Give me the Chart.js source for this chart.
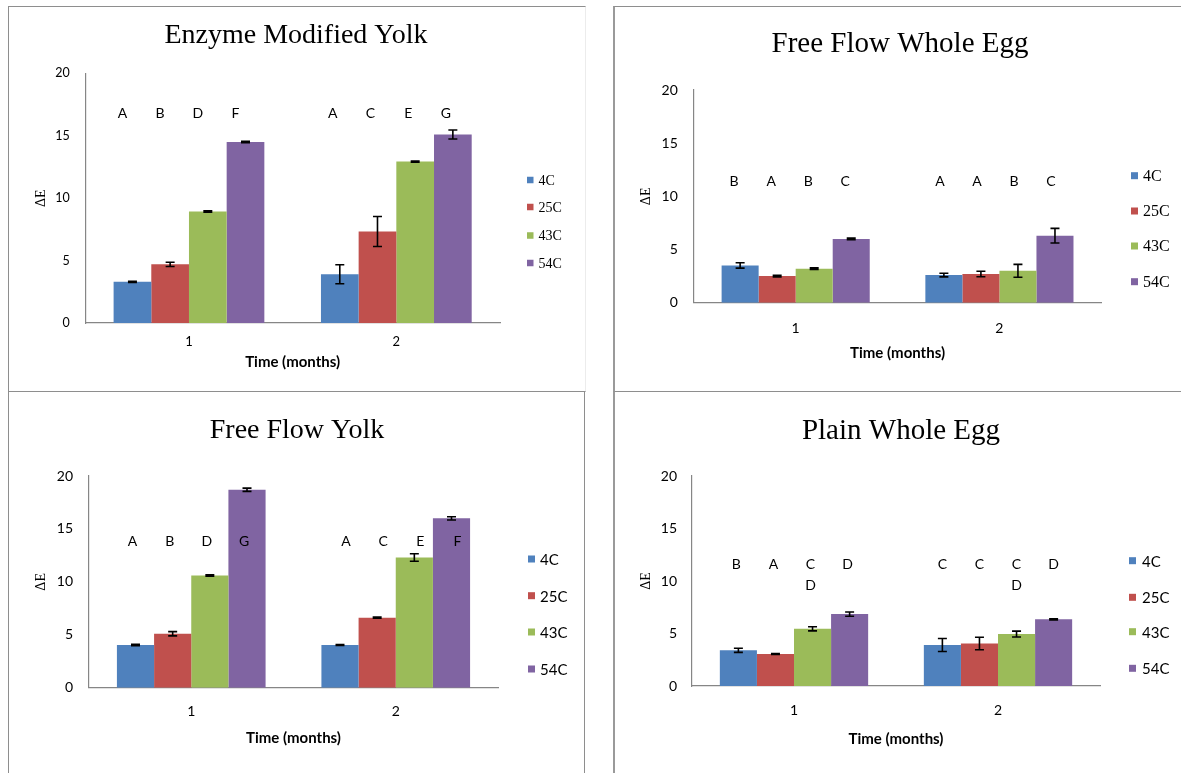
<!DOCTYPE html>
<html><head><meta charset="utf-8">
<script src="https://cdn.jsdelivr.net/npm/chart.js@4.4.1/dist/chart.umd.min.js"></script>
<style>
html,body{margin:0;padding:0;background:#fff;}
#page{position:relative;width:1181px;height:773px;overflow:hidden;background:#fff;}
.frame{position:absolute;box-sizing:border-box;}
canvas{position:absolute;}
</style></head><body>
<div id="page">
  <div class="frame" style="left:8px;top:6px;width:578px;height:386px;border:1.5px solid #8e8e8e;border-right:1px solid #ececec;"></div>
  <div class="frame" style="left:613px;top:6px;width:600px;height:386px;border-top:1.5px solid #8e8e8e;border-bottom:1.5px solid #8e8e8e;border-left:2px solid #9a9a9a;"></div>
  <div class="frame" style="left:8px;top:390.5px;width:577px;height:420px;border-top:1.5px solid #8e8e8e;border-left:1.5px solid #8e8e8e;border-right:1.5px solid #8e8e8e;"></div>
  <div class="frame" style="left:613px;top:390.5px;width:600px;height:420px;border-top:1.5px solid #8e8e8e;border-left:2px solid #9a9a9a;"></div>
  <canvas id="cA"></canvas>
  <canvas id="cB"></canvas>
  <canvas id="cC"></canvas>
  <canvas id="cD"></canvas>
</div>
<script>
// ---------- data ----------
const categories = ['1', '2'];
const seriesNames = ['4C', '25C', '43C', '54C'];
const seriesColors = ['#4F81BD', '#C0504D', '#9BBB59', '#8064A2'];
const yTicks = [0, 5, 10, 15, 20];
const xAxisTitle = 'Time (months)';
const yAxisTitle = '\u0394E';

// Enzyme Modified Yolk
const emyTitle = 'Enzyme Modified Yolk';
const emy4C = [3.3, 3.9];
const emy25C = [4.7, 7.33];
const emy43C = [8.93, 12.93];
const emy54C = [14.5, 15.1];
const emy4CErr = [0.05, 0.76];
const emy25CErr = [0.17, 1.2];
const emy43CErr = [0.05, 0.05];
const emy54CErr = [0.05, 0.36];
const emyLetters4C = ['A', 'A'];
const emyLetters25C = ['B', 'C'];
const emyLetters43C = ['D', 'E'];
const emyLetters54C = ['F', 'G'];

// Free Flow Whole Egg
const ffweTitle = 'Free Flow Whole Egg';
const ffwe4C = [3.5, 2.6];
const ffwe25C = [2.5, 2.7];
const ffwe43C = [3.2, 3.0];
const ffwe54C = [6.0, 6.3];
const ffwe4CErr = [0.25, 0.17];
const ffwe25CErr = [0.07, 0.26];
const ffwe43CErr = [0.07, 0.6];
const ffwe54CErr = [0.07, 0.69];
const ffweLetters4C = ['B', 'A'];
const ffweLetters25C = ['A', 'A'];
const ffweLetters43C = ['B', 'B'];
const ffweLetters54C = ['C', 'C'];

// Free Flow Yolk
const ffyTitle = 'Free Flow Yolk';
const ffy4C = [4.03, 4.03];
const ffy25C = [5.1, 6.62];
const ffy43C = [10.6, 12.3];
const ffy54C = [18.7, 16.0];
const ffy4CErr = [0.07, 0.05];
const ffy25CErr = [0.2, 0.06];
const ffy43CErr = [0.06, 0.36];
const ffy54CErr = [0.15, 0.15];
const ffyLetters4C = ['A', 'A'];
const ffyLetters25C = ['B', 'C'];
const ffyLetters43C = ['D', 'E'];
const ffyLetters54C = ['G', 'F'];

// Plain Whole Egg
const pweTitle = 'Plain Whole Egg';
const pwe4C = [3.4, 3.9];
const pwe25C = [3.05, 4.05];
const pwe43C = [5.45, 4.95];
const pwe54C = [6.85, 6.35];
const pwe4CErr = [0.2, 0.62];
const pwe25CErr = [0.05, 0.6];
const pwe43CErr = [0.2, 0.28];
const pwe54CErr = [0.2, 0.05];
const pweLetters4C = ['B', 'C'];
const pweLetters25C = ['A', 'C'];
const pweLetters43C = ['C\nD', 'C\nD'];
const pweLetters54C = ['D', 'D'];

// ---------- drawing ----------
const SANS = 'Lato, "Liberation Sans", sans-serif';
const SERIF = '"Liberation Serif", "Times New Roman", serif';

const decoPlugin = {
  id: 'deco',
  afterDatasetsDraw(chart, args, o) {
    const ctx = chart.ctx, ys = chart.scales.y;
    ctx.save();
    chart.data.datasets.forEach((ds, i) => {
      const meta = chart.getDatasetMeta(i);
      meta.data.forEach((bar, j) => {
        const v = ds.data[j], e = ds.errors[j];
        const t = ys.getPixelForValue(v + e), b = ys.getPixelForValue(v - e);
        ctx.strokeStyle = '#000'; ctx.lineWidth = 1.6;
        ctx.beginPath();
        ctx.moveTo(bar.x, t); ctx.lineTo(bar.x, b);
        ctx.moveTo(bar.x - 4.5, t); ctx.lineTo(bar.x + 4.5, t);
        ctx.moveTo(bar.x - 4.5, b); ctx.lineTo(bar.x + 4.5, b);
        ctx.stroke();
        // significance letters
        ctx.fillStyle = '#000';
        ctx.font = o.letterFont;
        ctx.textAlign = 'center'; ctx.textBaseline = 'middle';
        const lines = ds.letters[j].split('\n');
        const ly = ys.getPixelForValue(o.letterValue);
        lines.forEach((s, k) => ctx.fillText(s, bar.x + o.letterDx[j], ly + k * o.letterRow));
      });
    });
    ctx.restore();
  },
  afterDraw(chart, args, o) {
    const ctx = chart.ctx;
    ctx.save();
    // chart title
    ctx.fillStyle = '#000';
    ctx.font = o.titleFont; ctx.textAlign = 'center'; ctx.textBaseline = 'middle';
    ctx.fillText(o.titleText, o.titleX, o.titleY);
    // legend
    ctx.font = o.legendFont; ctx.textAlign = 'left'; ctx.textBaseline = 'middle';
    chart.data.datasets.forEach((ds, i) => {
      const y = o.legendY[i];
      ctx.fillStyle = ds.backgroundColor;
      ctx.fillRect(o.legendBoxX, y - o.legendBox / 2, o.legendBox, o.legendBox);
      ctx.fillStyle = '#000';
      ctx.fillText(ds.label, o.legendTextX, y + 1);
    });
    ctx.restore();
  }
};

function makePanel(id, d, g) {
  const cv = document.getElementById(id);
  cv.width = g.cw; cv.height = g.ch;
  cv.style.left = g.cx + 'px'; cv.style.top = g.cy + 'px';
  cv.style.width = g.cw + 'px'; cv.style.height = g.ch + 'px';
  const datasets = seriesNames.map((name, i) => ({
    label: name, data: d.means[i], errors: d.errs[i], letters: d.letters[i],
    backgroundColor: seriesColors[i], borderWidth: 0,
    barPercentage: 1, categoryPercentage: 0.727
  }));
  new Chart(cv, {
    type: 'bar',
    data: { labels: categories, datasets },
    options: {
      responsive: false, animation: false, devicePixelRatio: 1,
      layout: { padding: { top: g.plotT - g.cy, left: 0, bottom: 0, right: g.cx + g.cw - g.plotR } },
      plugins: {
        legend: { display: false }, tooltip: { enabled: false }, title: { display: false },
        deco: {
          titleText: d.title, titleFont: g.titleSize + 'px ' + SERIF,
          titleX: g.titleX - g.cx, titleY: g.titleY - g.cy,
          letterFont: g.letterSize + 'px ' + SANS,
          letterValue: g.letterValue, letterRow: g.letterRow || 0, letterDx: g.letterDx,
          legendFont: g.legendFont, legendBox: g.legendBox,
          legendBoxX: g.legendBoxX - g.cx, legendTextX: g.legendTextX - g.cx,
          legendY: g.legendY.map(v => v - g.cy)
        }
      },
      scales: {
        x: {
          grid: { display: false, drawTicks: false },
          border: { display: true, color: '#868686', width: 1.2 },
          ticks: { color: '#000', font: { family: SANS, size: g.xFont }, padding: g.xLabelY - g.plotB - 0.6 * g.xFont },
          title: {
            display: true, text: xAxisTitle, color: '#000',
            font: { family: SANS, size: g.xTitleSize, weight: 'bold', lineHeight: 1.2 },
            padding: { top: 0, bottom: g.cy + g.ch - g.xTitleY - 0.6 * g.xTitleSize }
          },
          afterFit: (s) => { s.height = g.cy + g.ch - g.plotB; }
        },
        y: {
          min: 0, max: 20,
          grid: { display: false, drawTicks: false },
          border: { display: true, color: '#868686', width: 1.2 },
          afterBuildTicks: (s) => { s.ticks = yTicks.map(v => ({ value: v })); },
          ticks: { color: '#000', font: { family: SANS, size: g.yFont }, padding: g.yTickPad },
          title: {
            display: true, text: yAxisTitle, color: '#000',
            font: { family: SERIF, size: 14, lineHeight: 1.2 },
            padding: { top: g.yTitleX - g.cx - 8.4, bottom: 0 }
          },
          afterFit: (s) => { s.width = g.plotL - g.cx; }
        }
      }
    },
    plugins: [decoPlugin]
  });
}

makePanel('cA', {
  title: emyTitle,
  means: [emy4C, emy25C, emy43C, emy54C],
  errs: [emy4CErr, emy25CErr, emy43CErr, emy54CErr],
  letters: [emyLetters4C, emyLetters25C, emyLetters43C, emyLetters54C]
}, {
  cx: 10, cy: 8, cw: 574, ch: 383,
  plotL: 85.3, plotR: 500, plotT: 73.3, plotB: 323,
  titleX: 296, titleY: 36, titleSize: 28,
  yFont: 12.5, yTickPad: 15.5, yTitleX: 41,
  xFont: 13, xLabelY: 341.7, xTitleSize: 15, xTitleY: 362,
  letterSize: 14, letterValue: 16.76, letterDx: [-10, -7],
  legendFont: '14px ' + SERIF, legendBox: 6.5, legendBoxX: 527, legendTextX: 538.5,
  legendY: [180, 207, 235.5, 263]
});

makePanel('cB', {
  title: ffweTitle,
  means: [ffwe4C, ffwe25C, ffwe43C, ffwe54C],
  errs: [ffwe4CErr, ffwe25CErr, ffwe43CErr, ffwe54CErr],
  letters: [ffweLetters4C, ffweLetters25C, ffweLetters43C, ffweLetters54C]
}, {
  cx: 615, cy: 8, cw: 566, ch: 383,
  plotL: 693.8, plotR: 1101.3, plotT: 90, plotB: 302.7,
  titleX: 900, titleY: 44, titleSize: 29,
  yFont: 14, yTickPad: 16, yTitleX: 646,
  xFont: 14, xLabelY: 328, xTitleSize: 15, xTitleY: 353,
  letterSize: 14, letterValue: 11.4, letterDx: [-6, -4],
  legendFont: '16px ' + SERIF, legendBox: 7, legendBoxX: 1131, legendTextX: 1143,
  legendY: [175.7, 211, 246, 281.7]
});

makePanel('cC', {
  title: ffyTitle,
  means: [ffy4C, ffy25C, ffy43C, ffy54C],
  errs: [ffy4CErr, ffy25CErr, ffy43CErr, ffy54CErr],
  letters: [ffyLetters4C, ffyLetters25C, ffyLetters43C, ffyLetters54C]
}, {
  cx: 10, cy: 393, cw: 573, ch: 380,
  plotL: 89, plotR: 498, plotT: 476, plotB: 687.7,
  titleX: 297, titleY: 430.5, titleSize: 28,
  yFont: 14, yTickPad: 16, yTitleX: 41,
  xFont: 14, xLabelY: 711.7, xTitleSize: 15, xTitleY: 738,
  letterSize: 14, letterValue: 13.8, letterDx: [-3, 6],
  legendFont: '15px ' + SANS, legendBox: 7, legendBoxX: 528, legendTextX: 540,
  legendY: [559, 595.7, 632, 669]
});

makePanel('cD', {
  title: pweTitle,
  means: [pwe4C, pwe25C, pwe43C, pwe54C],
  errs: [pwe4CErr, pwe25CErr, pwe43CErr, pwe54CErr],
  letters: [pweLetters4C, pweLetters25C, pweLetters43C, pweLetters54C]
}, {
  cx: 615, cy: 393, cw: 566, ch: 380,
  plotL: 692, plotR: 1100, plotT: 476, plotB: 686,
  titleX: 901, titleY: 431, titleSize: 29,
  yFont: 14, yTickPad: 15, yTitleX: 646,
  xFont: 14, xLabelY: 710.7, xTitleSize: 15, xTitleY: 739.3,
  letterSize: 14, letterValue: 11.6, letterRow: 21.7, letterDx: [-2, 0],
  legendFont: '15px ' + SANS, legendBox: 7, legendBoxX: 1129, legendTextX: 1142,
  legendY: [560.7, 597.3, 631.7, 668.3]
});
</script>
</body></html>
